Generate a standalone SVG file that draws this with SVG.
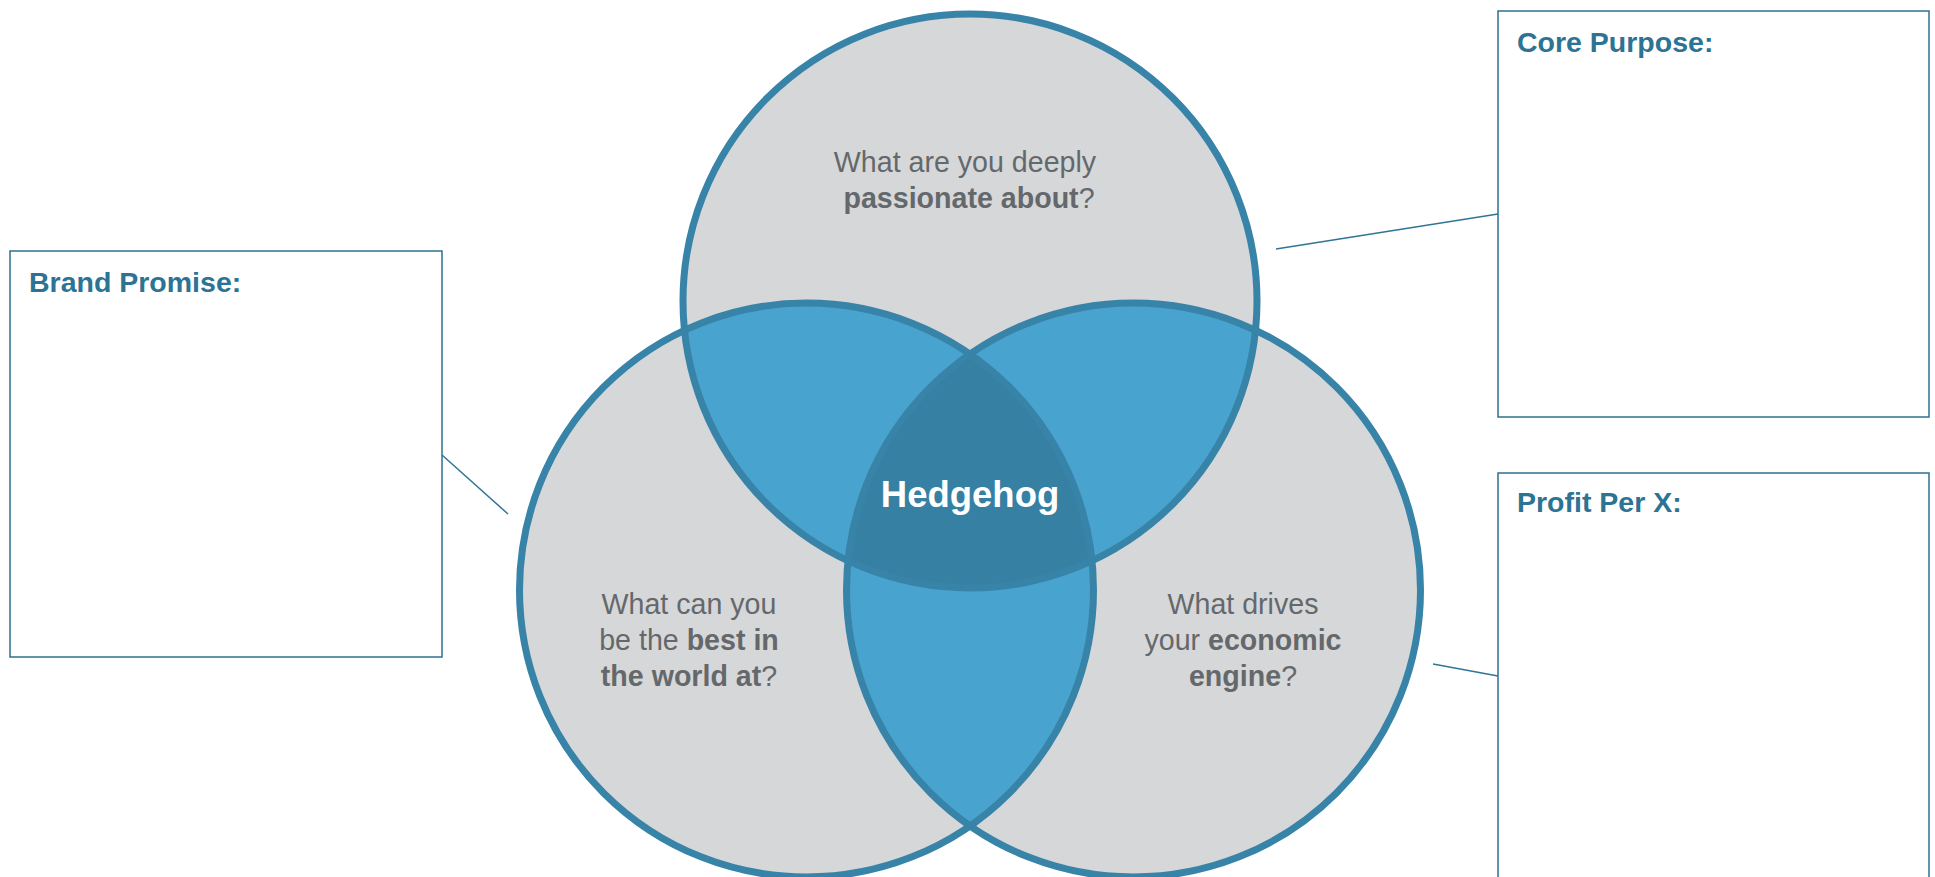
<svg xmlns="http://www.w3.org/2000/svg" width="1935" height="877" viewBox="0 0 1935 877">
  <style>
    .bg { fill: #ffffff; }
    .disc { fill: #d6d7d9; }
    .pair { fill: #49a3cf; }
    .core { fill: #3680a4; }
    .ring { fill: none; stroke: #3883a8; stroke-width: 7; }
    .q { font-family: "Liberation Sans", Arial, Helvetica, sans-serif; font-size: 28.6px; fill: #65686b; text-anchor: middle; }
    .q .b { font-weight: bold; }
    .hh { font-family: "Liberation Sans", Arial, Helvetica, sans-serif; font-size: 36.5px; font-weight: bold; fill: #ffffff; text-anchor: middle; }
    .box { fill: #ffffff; stroke: #2e7191; stroke-width: 1.5; }
    .head { font-family: "Liberation Sans", Arial, Helvetica, sans-serif; font-size: 28.5px; font-weight: bold; fill: #2c7394; }
    .link { stroke: #2f7596; stroke-width: 1.5; fill: none; }
  </style>
  <defs>
    <circle id="c-top" cx="970" cy="301" r="287"/>
    <circle id="c-left" cx="806.5" cy="590" r="287"/>
    <circle id="c-right" cx="1133.5" cy="590" r="287"/>
    <clipPath id="clip-top"><use href="#c-top"/></clipPath>
    <clipPath id="clip-left"><use href="#c-left"/></clipPath>
  </defs>

  <rect class="bg" x="0" y="0" width="1935" height="877"/>

  <!-- connectors between the notes and the circles -->
  <g id="connectors">
    <line class="link" x1="442" y1="455" x2="508" y2="514"/>
    <line class="link" x1="1276" y1="249" x2="1498" y2="214"/>
    <line class="link" x1="1433" y1="664" x2="1498" y2="676"/>
  </g>

  <!-- circle bodies -->
  <g id="circle-passion">
    <use href="#c-top" class="disc"/>
  </g>
  <g id="circle-best">
    <use href="#c-left" class="disc"/>
  </g>
  <g id="circle-economic">
    <use href="#c-right" class="disc"/>
  </g>

  <!-- pairwise overlaps -->
  <g id="overlaps">
    <g clip-path="url(#clip-top)">
      <use href="#c-left" class="pair"/>
      <use href="#c-right" class="pair"/>
    </g>
    <g clip-path="url(#clip-left)">
      <use href="#c-right" class="pair"/>
    </g>
  </g>

  <!-- triple overlap -->
  <g id="hedgehog">
    <g clip-path="url(#clip-top)">
      <g clip-path="url(#clip-left)">
        <use href="#c-right" class="core"/>
      </g>
    </g>
    <text class="hh" x="970" y="507">Hedgehog</text>
  </g>

  <!-- outlines drawn over every fill -->
  <g id="rings">
    <use href="#c-top" class="ring"/>
    <use href="#c-left" class="ring"/>
    <use href="#c-right" class="ring"/>
  </g>

  <!-- circle questions -->
  <g id="labels">
    <text class="q" x="965" y="172">What are you deeply</text>
    <text class="q" x="969" y="208"><tspan class="b">passionate about</tspan>?</text>

    <text class="q" x="689" y="614">What can you</text>
    <text class="q" x="689" y="650">be the <tspan class="b">best in</tspan></text>
    <text class="q" x="689" y="686"><tspan class="b">the world at</tspan>?</text>

    <text class="q" x="1243" y="614">What drives</text>
    <text class="q" x="1243" y="650">your <tspan class="b">economic</tspan></text>
    <text class="q" x="1243" y="686"><tspan class="b">engine</tspan>?</text>
  </g>

  <!-- note boxes -->
  <g id="box-brand-promise">
    <rect class="box" x="10" y="251" width="432" height="406"/>
    <text class="head" x="29" y="292">Brand Promise:</text>
  </g>
  <g id="box-core-purpose">
    <rect class="box" x="1498" y="11" width="431" height="406"/>
    <text class="head" x="1517" y="52">Core Purpose:</text>
  </g>
  <g id="box-profit-per-x">
    <rect class="box" x="1498" y="473" width="431" height="450"/>
    <text class="head" x="1517" y="512">Profit Per X:</text>
  </g>
</svg>
